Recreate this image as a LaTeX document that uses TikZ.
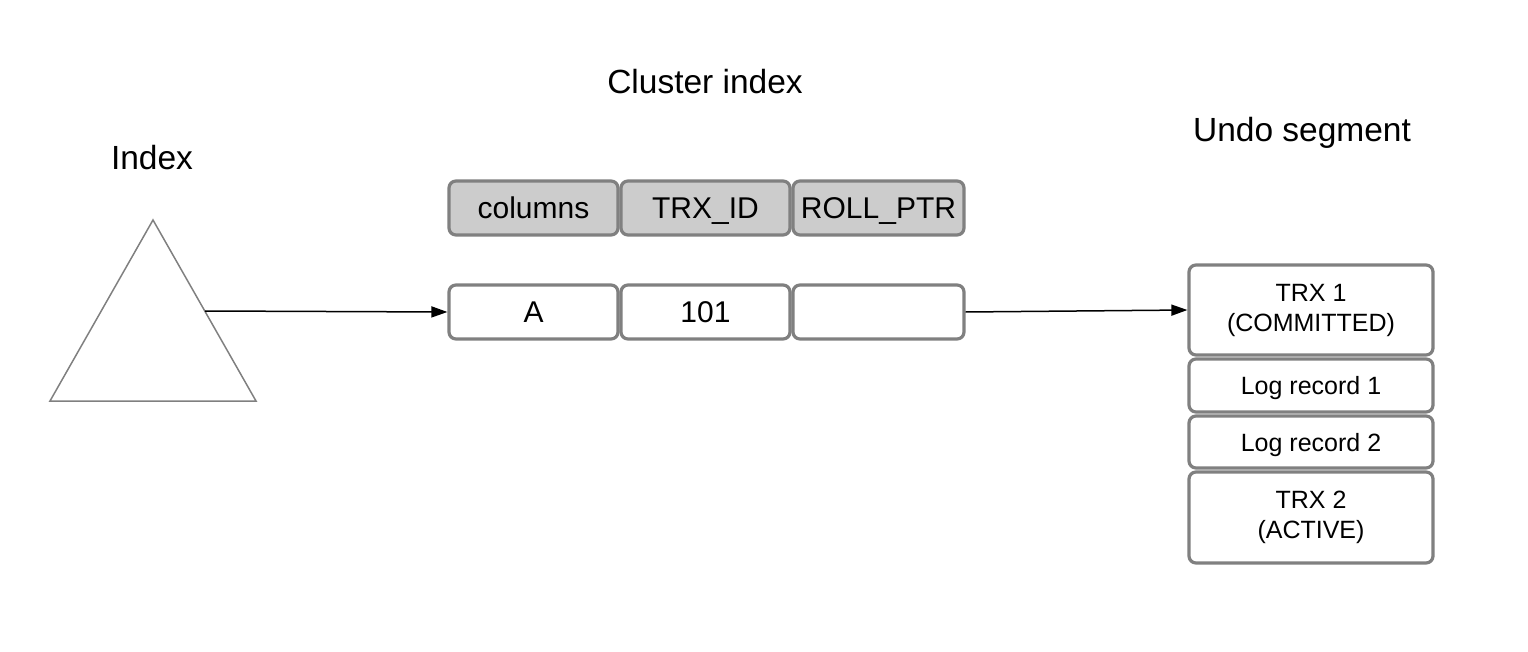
\documentclass[tikz,border=0pt]{standalone}
\usepackage{fontspec}
\setmainfont{Liberation Sans}
\usetikzlibrary{arrows.meta}
\definecolor{bordergray}{HTML}{808080}
\definecolor{headfill}{HTML}{CCCCCC}
\begin{document}
\begin{tikzpicture}[x=1pt,y=-1pt,
  cell/.style={draw=bordergray, line width=3.2pt, rounded corners=7pt, minimum height=54pt, inner sep=0pt, text height=21pt, text depth=0pt, font=\fontsize{30}{34}\selectfont},
  headcell/.style={cell, fill=headfill},
  undocell/.style={draw=bordergray, line width=3.2pt, rounded corners=7pt, minimum width=244pt, inner sep=0pt, align=center, font=\fontsize{25}{30}\selectfont},
  undoline/.style={undocell, text height=18pt, text depth=0pt},
  title/.style={font=\fontsize{33.5}{38}\selectfont},
  conn/.style={-{Triangle[length=16pt,width=11pt]}, line width=1.5pt}
]
\useasboundingbox (0,0) rectangle (1528,652);

\node[title] (tcluster) at (705,82) {Cluster index};
\node[title] (tindex) at (152,158) {Index};
\node[title] (tundo) at (1302,133) {Undo segment};

% Index triangle
\draw[bordergray, line width=1.5pt] (153,220) -- (256,401) -- (50,401) -- cycle;
\coordinate (idx) at (205,311);

% Header row
\node[headcell, minimum width=169pt] (hcol) at (533.5,208) {columns};
\node[headcell, minimum width=169pt] (htrx) at (705.5,208) {TRX\_ID};
\node[headcell, minimum width=171pt] (hroll) at (878.5,208) {ROLL\_PTR};

% Data row
\node[cell, minimum width=169pt] (dcol) at (533.5,312) {A};
\node[cell, minimum width=169pt] (dtrx) at (705.5,312) {101};
\node[cell, minimum width=171pt] (droll) at (878.5,312) {};

% Undo segment
\node[undocell, minimum height=90pt] (u1) at (1311,310) {TRX 1\\(COMMITTED)};
\node[undoline, minimum height=53pt] (u2) at (1311,385.5) {Log record 1};
\node[undoline, minimum height=52pt] (u3) at (1311,442) {Log record 2};
\node[undocell, minimum height=91pt] (u4) at (1311,517.5) {TRX 2\\(ACTIVE)};

% Connectors
\draw[conn] (idx) -- (dcol.west);
\draw[conn] (droll.east) -- (u1.west);
\end{tikzpicture}
\end{document}
